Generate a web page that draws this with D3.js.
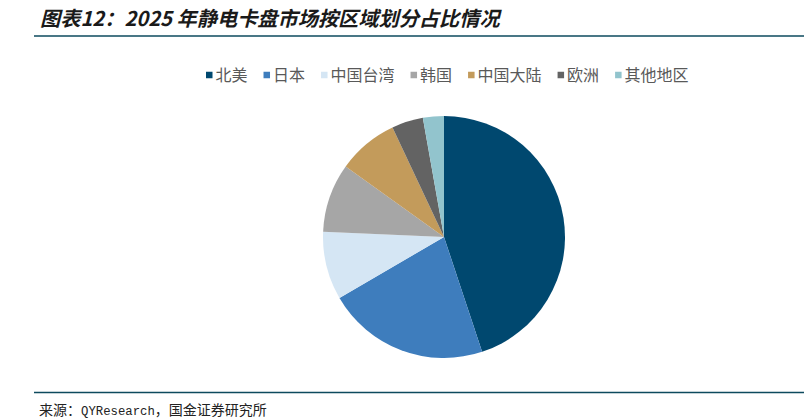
<!DOCTYPE html>
<html><head><meta charset="utf-8">
<script src="https://cdn.jsdelivr.net/npm/d3@7/dist/d3.min.js"></script>
<style>
html,body{margin:0;padding:0;background:#fff;}
svg{display:block;}
</style></head>
<body>
<svg id="chart" width="804" height="420"></svg>
<script>
const categories = ["北美", "日本", "中国台湾", "韩国", "中国大陆", "欧洲", "其他地区"];
const shares = [44.9, 21.7, 9.1, 9.2, 8.1, 4.2, 2.8];
const colors = ["#00486f", "#3e7dbd", "#d5e6f4", "#a6a6a6", "#c39b5b", "#636363", "#92c4cd"];
const titleText = "图表12：2025 年静电卡盘市场按区域划分占比情况";
const sourceParts = ["来源：", "QYResearch", "，国金证券研究所"];

const svg = d3.select("#chart");
const W = 804;

// title
svg.append("text")
  .attr("x", 40).attr("y", 26)
  .attr("font-family", "'Noto Sans CJK SC', sans-serif")
  .attr("font-size", 20.2).attr("font-weight", "bold").attr("font-style", "italic")
  .attr("fill", "#1a1a1a")
  .text(titleText);

// rules
svg.append("line").attr("x1", 34).attr("x2", W).attr("y1", 36).attr("y2", 36)
  .attr("stroke", "#0d4a5e").attr("stroke-width", 1.6);
svg.append("line").attr("x1", 34).attr("x2", W).attr("y1", 392.5).attr("y2", 392.5)
  .attr("stroke", "#0d4a5e").attr("stroke-width", 1.6);

// source
const src = svg.append("text")
  .attr("x", 39).attr("y", 415)
  .attr("font-family", "'Noto Sans CJK SC', sans-serif")
  .attr("font-size", 14).attr("fill", "#222");
src.append("tspan").text(sourceParts[0]);
src.append("tspan").attr("font-family", "'Liberation Mono', monospace").attr("font-size", 12.3).text(sourceParts[1]);
src.append("tspan").text(sourceParts[2]);

// legend
const color = d3.scaleOrdinal().domain(categories).range(colors);
const legend = svg.append("g").attr("transform", "translate(206,75)");
let lx = 0;
categories.forEach(c => {
  const g = legend.append("g").attr("transform", `translate(${lx},0)`);
  g.append("rect").attr("x", 0).attr("y", -3.25).attr("width", 6.5).attr("height", 6.5).attr("fill", color(c));
  const t = g.append("text").attr("x", 9.5).attr("y", 0).attr("dy", "0.36em")
    .attr("font-family", "'Noto Sans CJK SC', sans-serif")
    .attr("font-size", 16).attr("fill", "#595959").text(c);
  lx += 9.5 + t.node().getComputedTextLength() + 16;
});

// pie
const pie = d3.pie().value(d => d.v).sort(null);
const arc = d3.arc().innerRadius(0).outerRadius(121);
const data = categories.map((c, i) => ({c, v: shares[i]}));
svg.append("g").attr("transform", "translate(444,237)")
  .selectAll("path").data(pie(data)).join("path")
  .attr("d", arc).attr("fill", d => color(d.data.c));
</script>
</body></html>
